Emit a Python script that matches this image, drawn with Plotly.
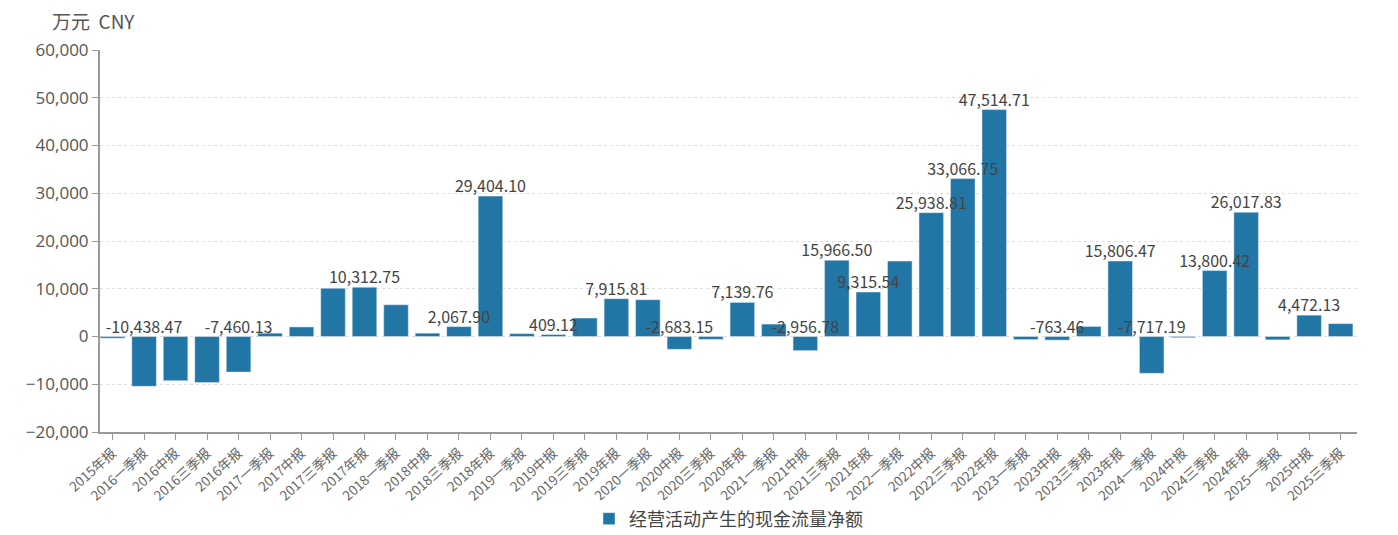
import plotly.graph_objects as go

# 报告期
periods = [
    '2015年报', '2016一季报', '2016中报', '2016三季报', '2016年报',
    '2017一季报', '2017中报', '2017三季报', '2017年报',
    '2018一季报', '2018中报', '2018三季报', '2018年报',
    '2019一季报', '2019中报', '2019三季报', '2019年报',
    '2020一季报', '2020中报', '2020三季报', '2020年报',
    '2021一季报', '2021中报', '2021三季报', '2021年报',
    '2022一季报', '2022中报', '2022三季报', '2022年报',
    '2023一季报', '2023中报', '2023三季报', '2023年报',
    '2024一季报', '2024中报', '2024三季报', '2024年报',
    '2025一季报', '2025中报', '2025三季报',
]

# 经营活动产生的现金流量净额 (万元)
cash_flow = [
    -350, -10438.47, -9250, -9650, -7460.13,
    700, 2000, 10100, 10312.75,
    6650, 700, 2067.90, 29404.10,
    600, 409.12, 3870, 7915.81,
    7700, -2683.15, -600, 7139.76,
    2600, -2956.78, 15966.50, 9315.54,
    15800, 25938.81, 33066.75, 47514.71,
    -650, -763.46, 2100, 15806.47,
    -7717.19, -250, 13800.42, 26017.83,
    -700, 4472.13, 2700,
]

# 显示数值标签的报告期
labeled = {
    '2016一季报', '2016年报', '2017年报', '2018三季报', '2018年报',
    '2019中报', '2019年报', '2020中报', '2020年报', '2021中报',
    '2021三季报', '2021年报', '2022中报', '2022三季报', '2022年报',
    '2023中报', '2023年报', '2024一季报', '2024三季报', '2024年报',
    '2025中报',
}

bar_color = '#2176a5'
font_family = 'Noto Sans CJK SC, Noto Sans, sans-serif'

label_text = [f'{v:,.2f}' if p in labeled else '' for p, v in zip(periods, cash_flow)]
label_y = [max(v, 0) for v in cash_flow]

fig = go.Figure()

fig.add_trace(go.Bar(
    x=periods,
    y=cash_flow,
    name='经营活动产生的现金流量净额',
    marker=dict(color=bar_color),
    hovertemplate='%{x}<br>%{y:,.2f}<extra></extra>',
))

# 标签放在柱顶 (负值放在零线上方)
fig.add_trace(go.Scatter(
    x=periods,
    y=label_y,
    mode='text',
    text=label_text,
    textposition='top center',
    textfont=dict(size=16, color='#444444', family=font_family),
    showlegend=False,
    hoverinfo='skip',
    cliponaxis=False,
))

# page body has an 8px margin, so margins are shifted to compensate
fig.update_layout(
    width=1398,
    height=535,
    plot_bgcolor='white',
    paper_bgcolor='white',
    bargap=0.22,
    font=dict(family=font_family, color='#555555'),
    margin=dict(l=92, r=49, t=42, b=111),
    showlegend=True,
    legend=dict(
        orientation='h',
        x=0.5, xanchor='center',
        yref='container',
        y=0.045, yanchor='middle',
        font=dict(size=18, color='#444444'),
    ),
    xaxis=dict(
        type='category',
        range=[-0.4, 39.52],
        automargin=False,
        tickangle=-42,
        tickfont=dict(size=13.5, color='#666666'),
        showline=True,
        linecolor='#999999',
        linewidth=2,
        ticks='outside',
        ticklen=6,
        tickcolor='#999999',
        showgrid=False,
    ),
    yaxis=dict(
        range=[-20000, 60000],
        dtick=10000,
        tickformat=',',
        automargin=False,
        tickfont=dict(size=17, color='#555555', family='Open Sans, sans-serif'),
        showline=True,
        linecolor='#999999',
        linewidth=2,
        ticks='outside',
        ticklen=6,
        tickcolor='#999999',
        showgrid=True,
        gridcolor='#dddddd',
        griddash='dot',
        zeroline=False,
    ),
    annotations=[dict(
        text='万元\u00a0\u00a0CNY',
        xref='paper', yref='paper',
        x=0, y=1,
        xanchor='left', yanchor='bottom',
        xshift=-50, yshift=14,
        showarrow=False,
        font=dict(size=19, color='#555555', family=font_family),
    )],
)

fig.write_html('out.html')
